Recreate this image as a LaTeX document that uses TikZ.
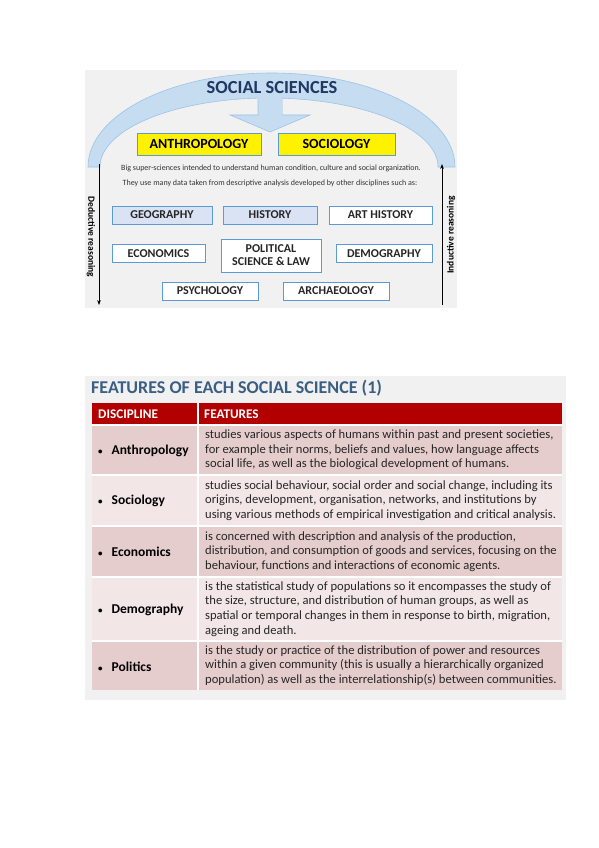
\documentclass[tikz,border=0pt]{standalone}
\usepackage{fontspec}
\setmainfont{Carlito}
\usetikzlibrary{arrows.meta}

\definecolor{panelgray}{HTML}{F1F1F1}
\definecolor{archblue}{HTML}{C6DCF0}
\definecolor{archedge}{HTML}{9DC3E6}
\definecolor{boxblue}{HTML}{5B9BD5}
\definecolor{boxfill}{HTML}{DAE3F3}
\definecolor{navy}{HTML}{1F3864}
\definecolor{titleblue}{HTML}{3A5F82}
\definecolor{headred}{HTML}{B20000}
\definecolor{rowdark}{HTML}{E6CDCD}
\definecolor{rowlight}{HTML}{F3E6E6}

\newcommand{\bulletmark}{{\fontsize{9}{9}\selectfont\textbullet}\hspace{9pt}}

\begin{document}
\begin{tikzpicture}[x=1pt,y=-1pt,
  subject/.style={draw=boxblue, line width=0.8pt, fill=white, minimum height=18pt,
    inner sep=0pt, font=\fontsize{12}{13}\selectfont\bfseries, text=black!85},
  super/.style={draw=boxblue, line width=0.6pt, fill=yellow, minimum height=22pt,
    inner sep=0pt, font=\fontsize{14}{15}\selectfont\bfseries},
  note/.style={font=\fontsize{8}{9}\selectfont, text=black!80},
  reason/.style={font=\fontsize{9.5}{11}\selectfont\bfseries},
  disc/.style={anchor=west, inner sep=0pt, font=\fontsize{13.5}{15}\selectfont\bfseries},
  feat/.style={anchor=west, align=left, inner sep=0pt, text=black!85,
    font=\fontsize{12.6}{14.7}\selectfont}]
  \useasboundingbox (0,0) rectangle (599,848);

  % Top panel
  \fill[panelgray] (85,70) rectangle (457,308);

  % Arch and arrow
  \fill[archblue, draw=archedge, line width=0.6pt]
    (88,167) arc[start angle=180, end angle=360, x radius=183.5, y radius=94]
    -- (438,167) arc[start angle=360, end angle=180, x radius=169, y radius=69]
    -- cycle;
  \fill[archblue, draw=archedge, line width=0.6pt]
    (258,99) -- (258,115) -- (230,115) -- (270,132) -- (310,115)
    -- (282,115) -- (282,99);
  \fill[archblue] (258.5,95) rectangle (281.5,116);
  \node[font=\fontsize{18.4}{20}\selectfont\bfseries, text=navy] (social) at (272,88) {SOCIAL SCIENCES};

  % Super-sciences
  \node[super, minimum width=124pt] (anthro) at (199,144) {ANTHROPOLOGY};
  \node[super, minimum width=117pt] (socio) at (336.5,144) {SOCIOLOGY};

  \node[note] (bigline) at (271,168) {Big super-sciences intended to understand human condition, culture and social organization.};
  \node[note] (useline) at (270,183) {They use many data taken from descriptive analysis developed by other disciplines such as:};

  % Disciplines
  \node[subject, fill=boxfill, minimum width=100pt] (geo) at (162,215) {GEOGRAPHY};
  \node[subject, fill=boxfill, minimum width=94pt] (hist) at (270,215) {HISTORY};
  \node[subject, minimum width=103pt] (art) at (380.5,215) {ART HISTORY};
  \node[subject, minimum width=93pt] (econ) at (158.5,253.5) {ECONOMICS};
  \node[subject, minimum width=100pt, minimum height=33pt, align=center,
    font=\fontsize{12}{13}\selectfont\bfseries] (pol) at (271,255.5) {POLITICAL\\SCIENCE \& LAW};
  \node[subject, minimum width=96pt] (demo) at (384,253.5) {DEMOGRAPHY};
  \node[subject, minimum width=96pt] (psy) at (210,291) {PSYCHOLOGY};
  \node[subject, minimum width=106pt] (arch) at (336,291) {ARCHAEOLOGY};

  % Reasoning arrows
  \coordinate (dedtop) at (99,164);
  \coordinate (dedbot) at (99,305);
  \coordinate (indbot) at (442,305);
  \coordinate (indtop) at (442,164);
  \draw[line width=0.8pt, -{Stealth[length=5pt]}] (dedtop) -- (dedbot);
  \draw[line width=0.8pt, -{Stealth[length=5pt]}] (indbot) -- (indtop);
  \node[reason, rotate=-90] (ded) at (91,237) {Deductive reasoning};
  \node[reason, rotate=90] (ind) at (451,235) {Inductive reasoning};

  % Bottom panel
  \fill[panelgray] (85,376) rectangle (566,700);
  \node[anchor=west, inner sep=0pt, font=\fontsize{18}{20}\selectfont\bfseries, text=titleblue]
    (feattitle) at (91,388) {FEATURES OF EACH SOCIAL SCIENCE (1)};

  % Table rows
  \fill[headred] (92,403) rectangle (562,425);
  \fill[rowdark] (92,425) rectangle (562,475);
  \fill[rowlight] (92,475) rectangle (562,526);
  \fill[rowdark] (92,526) rectangle (562,577);
  \fill[rowlight] (92,577) rectangle (562,641);
  \fill[rowdark] (92,641) rectangle (562,690);
  \foreach \y in {425,475,526,577,641}
    \draw[white, line width=1.2pt] (92,\y) -- (562,\y);
  \draw[white, line width=1.2pt] (198,403) -- (198,690);

  % Header
  \node[disc, text=white, font=\fontsize{13.2}{14}\selectfont\bfseries] (dischead) at (98,414) {DISCIPLINE};
  \node[disc, text=white, font=\fontsize{13.2}{14}\selectfont\bfseries] (feathead) at (204,414) {FEATURES};

  % Anthropology
  \node[disc] (danthro) at (98,451) {\bulletmark Anthropology};
  \node[feat] (fanthro) at (205,450) {studies various aspects of humans within past and present societies,\\
    for example their norms, beliefs and values, how language affects\\
    social life, as well as the biological development of humans.};

  % Sociology
  \node[disc] (dsocio) at (98,501) {\bulletmark Sociology};
  \node[feat] (fsocio) at (205,500.5) {studies social behaviour, social order and social change, including its\\
    origins, development, organisation, networks, and institutions by\\
    using various methods of empirical investigation and critical analysis.};

  % Economics
  \node[disc] (decon) at (98,552) {\bulletmark Economics};
  \node[feat] (fecon) at (205,551.5) {is concerned with description and analysis of the production,\\
    distribution, and consumption of goods and services, focusing on the\\
    behaviour, functions and interactions of economic agents.};

  % Demography
  \node[disc] (ddemo) at (98,610) {\bulletmark Demography};
  \node[feat] (fdemo) at (205,609) {is the statistical study of populations so it encompasses the study of\\
    the size, structure, and distribution of human groups, as well as\\
    spatial or temporal changes in them in response to birth, migration,\\
    ageing and death.};

  % Politics
  \node[disc] (dpol) at (98,667) {\bulletmark Politics};
  \node[feat] (fpol) at (205,665.5) {is the study or practice of the distribution of power and resources\\
    within a given community (this is usually a hierarchically organized\\
    population) as well as the interrelationship(s) between communities.};
\end{tikzpicture}
\end{document}
